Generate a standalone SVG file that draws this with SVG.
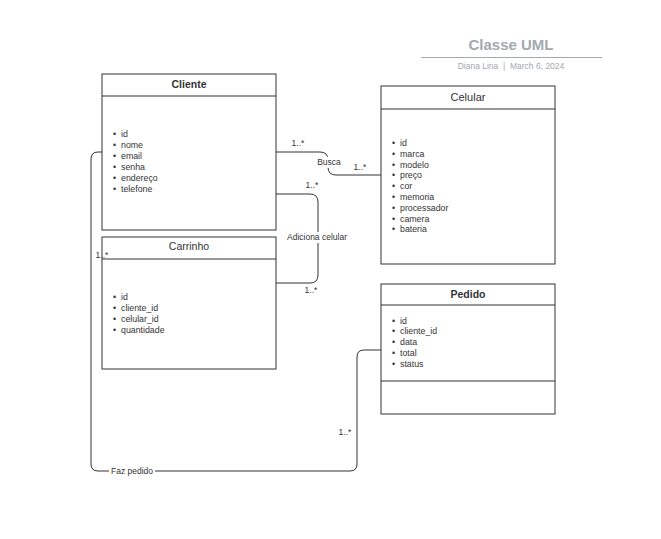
<svg xmlns="http://www.w3.org/2000/svg" width="661" height="539" viewBox="0 0 661 539">
<style>
.box{fill:#fff;stroke:#333;stroke-width:1}
.ln{stroke:#333;stroke-width:1}
.t{font-family:"Liberation Sans",Arial,sans-serif;fill:#333}
.title{font-size:10.5px;text-anchor:middle}
.b{font-weight:bold}
.attr{font-size:8.8px}
.lab{font-family:"Liberation Sans",Arial,sans-serif;font-size:8.5px;fill:#333}
.conn{fill:none;stroke:#333;stroke-width:1}
</style>
<rect width="661" height="539" fill="#fff"/>
<g id="header">
<text x="511" y="50" class="t b" style="font-size:15px;fill:#a3a9b1;text-anchor:middle">Classe UML</text>
<line x1="421" y1="57.5" x2="602" y2="57.5" stroke="#a3a9b1" stroke-width="1"/>
<text x="511" y="69" class="t" style="font-size:8.5px;fill:#a3a9b1;text-anchor:middle;white-space:pre">Diana Lina  |  March 6, 2024</text>
</g>
<g id="cliente">
<rect class="box" x="102" y="74" width="174" height="156"/>
<line class="ln" x1="102" y1="96" x2="276" y2="96"/>
<text x="189" y="88" class="t title b">Cliente</text>
<g class="t attr">
<text x="113" y="137">•<tspan x="121">id</tspan></text>
<text x="113" y="148">•<tspan x="121">nome</tspan></text>
<text x="113" y="159">•<tspan x="121">email</tspan></text>
<text x="113" y="170">•<tspan x="121">senha</tspan></text>
<text x="113" y="181">•<tspan x="121">endereço</tspan></text>
<text x="113" y="192">•<tspan x="121">telefone</tspan></text>
</g>
</g>
<g id="celular">
<rect class="box" x="381" y="86" width="174" height="178"/>
<line class="ln" x1="381" y1="109" x2="555" y2="109"/>
<text x="468" y="101" class="t title" style="font-size:11px">Celular</text>
<g class="t attr">
<text x="392" y="146">•<tspan x="400">id</tspan></text>
<text x="392" y="157">•<tspan x="400">marca</tspan></text>
<text x="392" y="168">•<tspan x="400">modelo</tspan></text>
<text x="392" y="178">•<tspan x="400">preço</tspan></text>
<text x="392" y="189">•<tspan x="400">cor</tspan></text>
<text x="392" y="200">•<tspan x="400">memoria</tspan></text>
<text x="392" y="211">•<tspan x="400">processador</tspan></text>
<text x="392" y="222">•<tspan x="400">camera</tspan></text>
<text x="392" y="232">•<tspan x="400">bateria</tspan></text>
</g>
</g>
<g id="carrinho">
<rect class="box" x="102" y="237" width="174" height="132"/>
<line class="ln" x1="102" y1="259" x2="276" y2="259"/>
<text x="189" y="250" class="t title">Carrinho</text>
<g class="t attr">
<text x="113" y="300">•<tspan x="121">id</tspan></text>
<text x="113" y="311">•<tspan x="121">cliente_id</tspan></text>
<text x="113" y="322">•<tspan x="121">celular_id</tspan></text>
<text x="113" y="333">•<tspan x="121">quantidade</tspan></text>
</g>
</g>
<g id="pedido">
<rect class="box" x="381" y="284" width="174" height="130"/>
<line class="ln" x1="381" y1="305" x2="555" y2="305"/>
<line class="ln" x1="381" y1="381" x2="555" y2="381"/>
<text x="468" y="298" class="t title b">Pedido</text>
<g class="t attr">
<text x="392" y="324">•<tspan x="400">id</tspan></text>
<text x="392" y="334">•<tspan x="400">cliente_id</tspan></text>
<text x="392" y="345">•<tspan x="400">data</tspan></text>
<text x="392" y="356">•<tspan x="400">total</tspan></text>
<text x="392" y="367">•<tspan x="400">status</tspan></text>
</g>
</g>
<g id="connectors">
<path class="conn" d="M276,152 H320 Q328,152 328,160 V167 Q328,175 336,175 H381"/>
<rect x="315" y="157" width="28" height="11" fill="#fff"/>
<text x="329" y="165" class="lab" text-anchor="middle">Busca</text>
<text x="298" y="146" class="lab" text-anchor="middle">1..*</text>
<text x="360" y="170" class="lab" text-anchor="middle">1..*</text>
<path class="conn" d="M276,194 H310 Q318,194 318,202 V275 Q318,283 310,283 H276"/>
<rect x="284" y="232" width="66" height="11" fill="#fff"/>
<text x="317" y="240" class="lab" text-anchor="middle">Adiciona celular</text>
<text x="312" y="188" class="lab" text-anchor="middle">1..*</text>
<text x="311" y="293" class="lab" text-anchor="middle">1..*</text>
<path class="conn" d="M102,152 H98 Q91,152 91,159 V464 Q91,471 98,471 H350 Q357,471 357,464 V357 Q357,350 364,350 H381"/>
<rect x="109" y="466" width="46" height="10" fill="#fff"/>
<text x="132" y="474" class="lab" text-anchor="middle">Faz pedido</text>
<text x="102" y="258" class="lab" text-anchor="middle">1..*</text>
<text x="345" y="435" class="lab" text-anchor="middle">1..*</text>
</g>
</svg>
